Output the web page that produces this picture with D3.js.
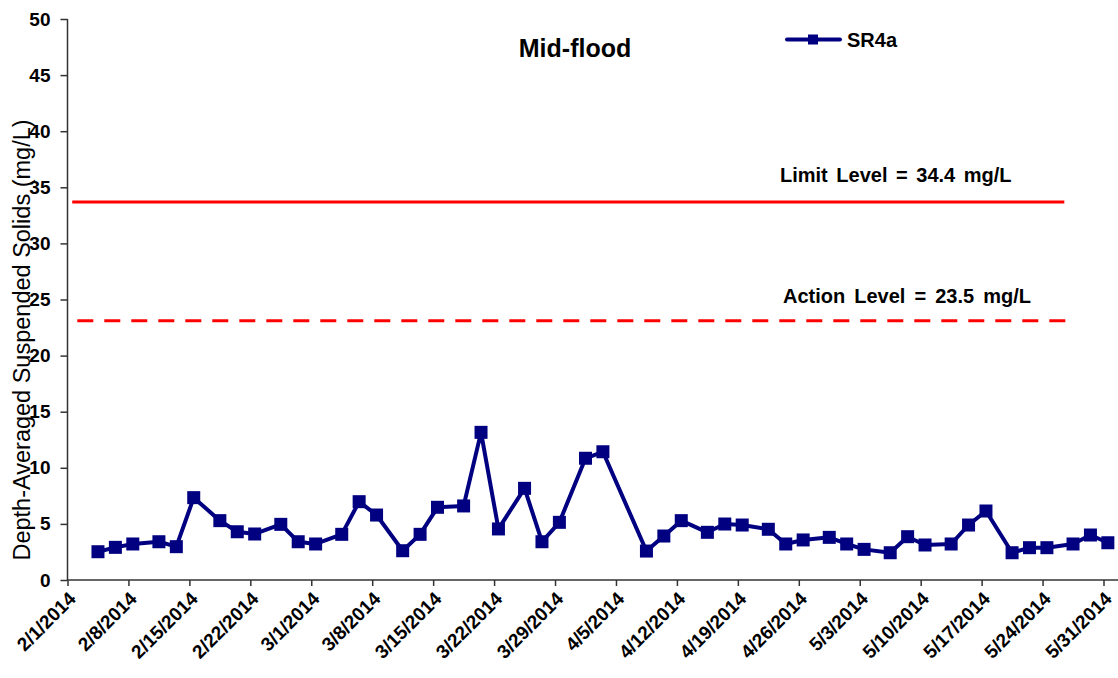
<!DOCTYPE html>
<html>
<head>
<meta charset="utf-8">
<script src="https://cdn.jsdelivr.net/npm/d3@7"></script>
<style>
  html, body { margin: 0; padding: 0; background: #fff; }
  svg { display: block; font-family: "Liberation Sans", Arial, sans-serif; }
</style>
</head>
<body>
<svg id="chart" width="1118" height="678"></svg>
<script>
// ---- data ----
const dates = ["2014-02-04","2014-02-06","2014-02-08","2014-02-11","2014-02-13","2014-02-15","2014-02-18","2014-02-20","2014-02-22","2014-02-25","2014-02-27","2014-03-01","2014-03-04","2014-03-06","2014-03-08","2014-03-11","2014-03-13","2014-03-15","2014-03-18","2014-03-20","2014-03-22","2014-03-25","2014-03-27","2014-03-29","2014-04-01","2014-04-03","2014-04-08","2014-04-10","2014-04-12","2014-04-15","2014-04-17","2014-04-19","2014-04-22","2014-04-24","2014-04-26","2014-04-29","2014-05-01","2014-05-03","2014-05-06","2014-05-08","2014-05-10","2014-05-13","2014-05-15","2014-05-17","2014-05-20","2014-05-22","2014-05-24","2014-05-27","2014-05-29","2014-05-31"];
const sr4a = [2.52,2.91,3.21,3.41,2.97,7.34,5.29,4.30,4.10,4.96,3.41,3.21,4.07,6.98,5.79,2.61,4.07,6.48,6.60,13.16,4.55,8.17,3.41,5.14,10.85,11.43,2.58,3.92,5.29,4.25,4.99,4.90,4.52,3.21,3.57,3.80,3.21,2.73,2.43,3.86,3.12,3.21,4.90,6.15,2.43,2.88,2.88,3.21,4.01,3.32];
const yTicks = [0,5,10,15,20,25,30,35,40,45,50];
const xTickDates = ["2014-02-01","2014-02-08","2014-02-15","2014-02-22","2014-03-01","2014-03-08","2014-03-15","2014-03-22","2014-03-29","2014-04-05","2014-04-12","2014-04-19","2014-04-26","2014-05-03","2014-05-10","2014-05-17","2014-05-24","2014-05-31"];
const limitLevel = { label: "Limit Level = 34.4 mg/L", value: 33.7, from: "2014-02-01T13:00", to: "2014-05-26T12:00" };
const actionLevel = { label: "Action Level = 23.5 mg/L", value: 23.1, from: "2014-02-02T03:00", to: "2014-05-27T12:00" };
const title = "Mid-flood";
const seriesName = "SR4a";
const yTitle = "Depth-Averaged Suspended Solids (mg/L)";

// ---- layout ----
const svg = d3.select("#chart");
const parse = s => new Date(s.length > 10 ? s + "Z" : s + "T00:00Z");
const fmt = d3.utcFormat("%-m/%-d/%Y");
const halfDay = 12 * 3600 * 1000;
const FONT = "'Liberation Sans', Arial, sans-serif";

const x = d3.scaleUtc()
  .domain([parse("2014-02-01"), parse("2014-06-02")])
  .range([67.5, 67.5 + 121 * (1036 / 119)]);
const y = d3.scaleLinear().domain([0, 50]).range([580, 19]);

const axisColor = "#333";

// y axis
const yAxis = svg.append("g").attr("transform", "translate(67.5,0)")
  .call(d3.axisLeft(y).tickValues(yTicks).tickSize(7).tickPadding(10).tickFormat(d3.format("d")));
yAxis.attr("font-family", FONT);
yAxis.select(".domain").attr("stroke", axisColor).attr("stroke-width", 1.5).attr("d", `M0,${y(50)}V${y(0)}`);
yAxis.selectAll(".tick line").attr("stroke", axisColor).attr("stroke-width", 1.5);
yAxis.selectAll(".tick text").attr("font-size", 19).attr("font-weight", "bold").attr("fill", "#000");

// x axis
const xAxis = svg.append("g").attr("transform", "translate(0,580)")
  .call(d3.axisBottom(x).tickValues(xTickDates.map(parse)).tickSize(6).tickFormat(""));
xAxis.attr("font-family", FONT);
xAxis.select(".domain").attr("stroke", axisColor).attr("stroke-width", 1.5).attr("d", `M${x.range()[0]},0H1118`);
xAxis.selectAll(".tick line").attr("stroke", axisColor).attr("stroke-width", 1.5);
xAxis.selectAll(".tick").append("text")
  .attr("transform", "translate(9,20) rotate(-45)")
  .attr("text-anchor", "end")
  .attr("font-size", 19)
  .attr("font-weight", "bold")
  .attr("fill", "#000")
  .text(d => fmt(d));

// reference lines
svg.append("line")
  .attr("x1", x(parse(limitLevel.from))).attr("x2", x(parse(limitLevel.to)))
  .attr("y1", y(limitLevel.value)).attr("y2", y(limitLevel.value))
  .attr("stroke", "#ff0000").attr("stroke-width", 3);
svg.append("line")
  .attr("x1", x(parse(actionLevel.from))).attr("x2", x(parse(actionLevel.to)))
  .attr("y1", y(actionLevel.value)).attr("y2", y(actionLevel.value))
  .attr("stroke", "#ff0000").attr("stroke-width", 3).attr("stroke-dasharray", "16,11");

svg.append("text").attr("x", 780).attr("y", 182)
  .attr("font-size", 20).attr("font-weight", "bold").attr("word-spacing", 3).text(limitLevel.label);
svg.append("text").attr("x", 783).attr("y", 303)
  .attr("font-size", 20).attr("font-weight", "bold").attr("word-spacing", 3.5).text(actionLevel.label);

// series
const pts = dates.map((d, i) => ({ t: new Date(parse(d).getTime() + halfDay), v: sr4a[i] }));
const navy = "#000080";
svg.append("path").datum(pts)
  .attr("fill", "none").attr("stroke", navy).attr("stroke-width", 4).attr("stroke-linejoin", "round")
  .attr("d", d3.line().x(d => x(d.t)).y(d => y(d.v)));
const ms = 13;
svg.append("g").selectAll("rect").data(pts).join("rect")
  .attr("x", d => x(d.t) - ms / 2).attr("y", d => y(d.v) - ms / 2)
  .attr("width", ms).attr("height", ms).attr("fill", navy);

// title
svg.append("text").attr("x", 575).attr("y", 57).attr("text-anchor", "middle")
  .attr("font-size", 25).attr("font-weight", "bold").text(title);

// legend
svg.append("line").attr("x1", 787).attr("x2", 840).attr("y1", 39.5).attr("y2", 39.5)
  .attr("stroke", navy).attr("stroke-width", 4).attr("stroke-linecap", "round");
svg.append("rect").attr("x", 808).attr("y", 34.5).attr("width", 10).attr("height", 10).attr("fill", navy);
svg.append("text").attr("x", 847).attr("y", 47).attr("font-size", 20).attr("font-weight", "bold").text(seriesName);

// y title
svg.append("text")
  .attr("transform", "translate(30,340) rotate(-90)")
  .attr("text-anchor", "middle")
  .attr("font-size", 23.5)
  .text(yTitle);
</script>
</body>
</html>
